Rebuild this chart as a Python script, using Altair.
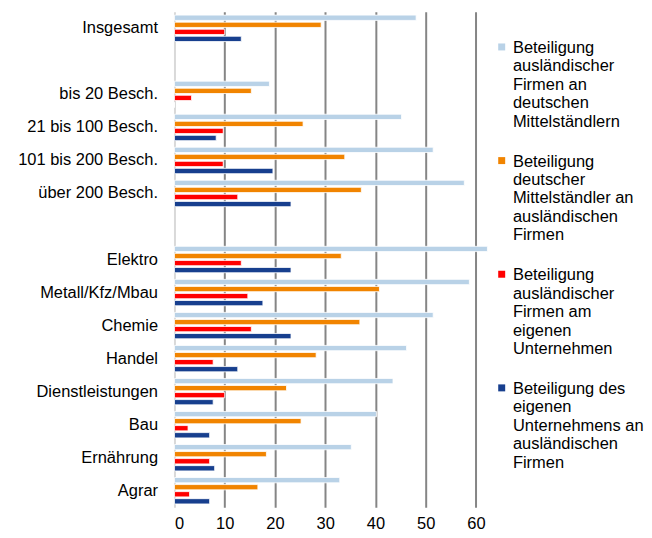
import altair as alt
import pandas as pd

# rows of the chart (blank strings are empty spacer rows)
row_order = ["Insgesamt", " ", "bis 20 Besch.", "21 bis 100 Besch.", "101 bis 200 Besch.",
             "über 200 Besch.", "  ", "Elektro", "Metall/Kfz/Mbau", "Chemie", "Handel",
             "Dienstleistungen", "Bau", "Ernährung", "Agrar"]

categories = ["Insgesamt", "bis 20 Besch.", "21 bis 100 Besch.", "101 bis 200 Besch.",
              "über 200 Besch.", "Elektro", "Metall/Kfz/Mbau", "Chemie", "Handel",
              "Dienstleistungen", "Bau", "Ernährung", "Agrar"]

series = ["Beteiligung|ausländischer|Firmen an|deutschen|Mittelständlern",
          "Beteiligung|deutscher|Mittelständler an|ausländischen|Firmen",
          "Beteiligung|ausländischer|Firmen am|eigenen|Unternehmen",
          "Beteiligung des|eigenen|Unternehmens an|ausländischen|Firmen"]

colors = ["#b9d2e7", "#f18400", "#ff0000", "#173f8e"]

s1 = [48.1, 18.9, 45.2, 51.5, 57.7, 62.3, 58.7, 51.5, 46.2, 43.5, 40.2, 35.2, 32.9]
s2 = [29.2, 15.3, 25.6, 33.9, 37.2, 33.2, 40.8, 36.9, 28.2, 22.3, 25.2, 18.3, 16.6]
s3 = [10.0, 3.4, 9.7, 9.7, 12.6, 13.3, 14.6, 15.3, 7.7, 10.0, 2.7, 7.0, 3.0]
s4 = [13.3, 0.0, 8.3, 19.6, 23.2, 23.2, 17.6, 23.2, 12.6, 7.7, 7.0, 8.0, 7.0]

x_ticks = [0, 10, 20, 30, 40, 50, 60]

rows = []
for name, vals in zip(series, [s1, s2, s3, s4]):
    for c, v in zip(categories, vals):
        rows.append({"cat": c, "series": name, "value": v})
df = pd.DataFrame(rows)

FONT = "Liberation Sans"

chart = alt.Chart(df).mark_bar(stroke="white", strokeWidth=0.8).encode(
    x=alt.X("value:Q",
            scale=alt.Scale(domain=[0, 63.5], nice=False),
            axis=alt.Axis(title=None, values=x_ticks, grid=True, domain=False, ticks=False,
                          gridColor=alt.condition("datum.value == 0", alt.value("#d9d9d9"), alt.value("#858585")),
                          gridWidth=2, labelFontSize=16.5, labelFont=FONT, labelColor="black",
                          labelPadding=8)),
    y=alt.Y("cat:N",
            scale=alt.Scale(domain=row_order, paddingInner=0.2, paddingOuter=0.1),
            axis=alt.Axis(title=None, ticks=False, domain=False, labelFontSize=16.5, labelFont=FONT,
                          labelColor="black", labelPadding=17, labelLimit=300)),
    yOffset=alt.YOffset("series:N", sort=series, scale=alt.Scale(paddingInner=0.25)),
    color=alt.Color("series:N",
                    scale=alt.Scale(domain=series, range=colors),
                    legend=alt.Legend(title=None, orient="none", legendX=320, legendY=20,
                                      labelExpr="split(datum.label, '|')",
                                      labelFontSize=16.5, labelFont=FONT, labelColor="black",
                                      labelBaseline="top", labelLimit=400,
                                      symbolType="M-1,1H1V3H-1Z", symbolSize=49, symbolStrokeWidth=0,
                                      rowPadding=15, labelOffset=3)),
).properties(
    width=320, height=497,
    padding={"left": 9, "top": 3, "right": 0, "bottom": 0},
).configure_view(stroke=None)

chart.save("out.html", embed_options={"renderer": "svg", "actions": False})
